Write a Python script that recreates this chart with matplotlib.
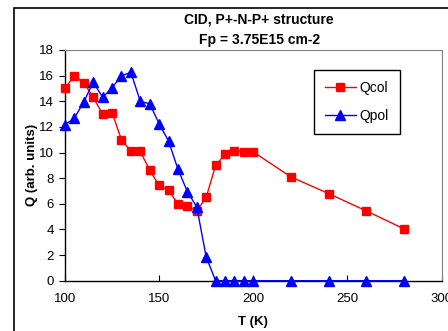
import matplotlib
matplotlib.use("Agg")
import matplotlib.pyplot as plt
from matplotlib.patches import Rectangle

plt.rcParams['font.family'] = ['Liberation Sans', 'DejaVu Sans']

# data
t_col = [100, 105, 110, 115, 120, 125, 130, 135, 140, 145, 150, 155, 160, 165,
         170, 175, 180, 185, 190, 195, 200, 220, 240, 260, 280]
q_col = [15.0, 16.0, 15.45, 14.3, 13.0, 13.1, 11.0, 10.1, 10.1, 8.6, 7.45, 7.05,
         6.0, 5.8, 5.45, 6.5, 9.0, 9.85, 10.15, 10.05, 10.05, 8.1, 6.8, 5.45, 4.05]

t_pol = [100, 105, 110, 115, 120, 125, 130, 135, 140, 145, 150, 155, 160, 165,
         170, 175, 180, 185, 190, 195, 200, 220, 240, 260, 280]
q_pol = [12.15, 12.7, 13.95, 15.5, 14.3, 15.05, 16.0, 16.25, 14.0, 13.8, 12.25,
         10.9, 8.7, 6.95, 5.75, 1.85, 0, 0, 0, 0, 0, 0, 0, 0, 0]

x_ticks = [100, 150, 200, 250, 300]
y_ticks = [0, 2, 4, 6, 8, 10, 12, 14, 16, 18]

fig = plt.figure(figsize=(4.48, 3.31), dpi=100)
ax = fig.add_axes([65/448, 1 - 280.7/331, (441.5 - 65)/448, (280.7 - 50)/331])

# outer chart frame (partly cut off like the original)
fig.patches.append(Rectangle((14/448, -0.2), 1.2, 1.2 - 8/331, transform=fig.transFigure,
                             fill=False, edgecolor='black', linewidth=1.2))

ax.plot(t_col, q_col, color='#ff0000', marker='s', markersize=6, linewidth=1,
        label='Qcol', clip_on=False, zorder=3)
ax.plot(t_pol, q_pol, color='#0000ff', marker='^', markersize=7, linewidth=1,
        label='Qpol', clip_on=False, zorder=3)

ax.set_xlim(100, 300)
ax.set_ylim(0, 18)
ax.set_xticks(x_ticks)
ax.set_yticks(y_ticks)
ax.tick_params(axis='x', direction='in', length=4, labelsize=9.5, pad=9)
ax.tick_params(axis='y', direction='out', length=4, labelsize=9.5, pad=4)

for side in ['top', 'right']:
    ax.spines[side].set_color('#808080')
    ax.spines[side].set_linewidth(0.8)
for side in ['left', 'bottom']:
    ax.spines[side].set_linewidth(1)

ax.set_xlabel('T (K)', fontsize=9.5, fontweight='bold', labelpad=8)
ax.set_ylabel('Q (arb. units)', fontsize=9.5, fontweight='bold', labelpad=1)

fig.text(259/448, 1 - 20/331, 'CID, P+-N-P+ structure', ha='center', va='center',
         fontsize=10, fontweight='bold')
fig.text(259/448, 1 - 40/331, 'Fp = 3.75E15 cm-2', ha='center', va='center',
         fontsize=10, fontweight='bold')

leg = ax.legend(loc='upper left', bbox_to_anchor=(314/448, 1 - 70/331),
                bbox_transform=fig.transFigure, fontsize=10, frameon=True,
                fancybox=False, edgecolor='black', framealpha=1,
                handlelength=2.2, labelspacing=1.0, borderpad=0.8,
                handletextpad=0.3, borderaxespad=0)
leg.get_frame().set_linewidth(1)

fig.savefig('out.png', dpi=100)
